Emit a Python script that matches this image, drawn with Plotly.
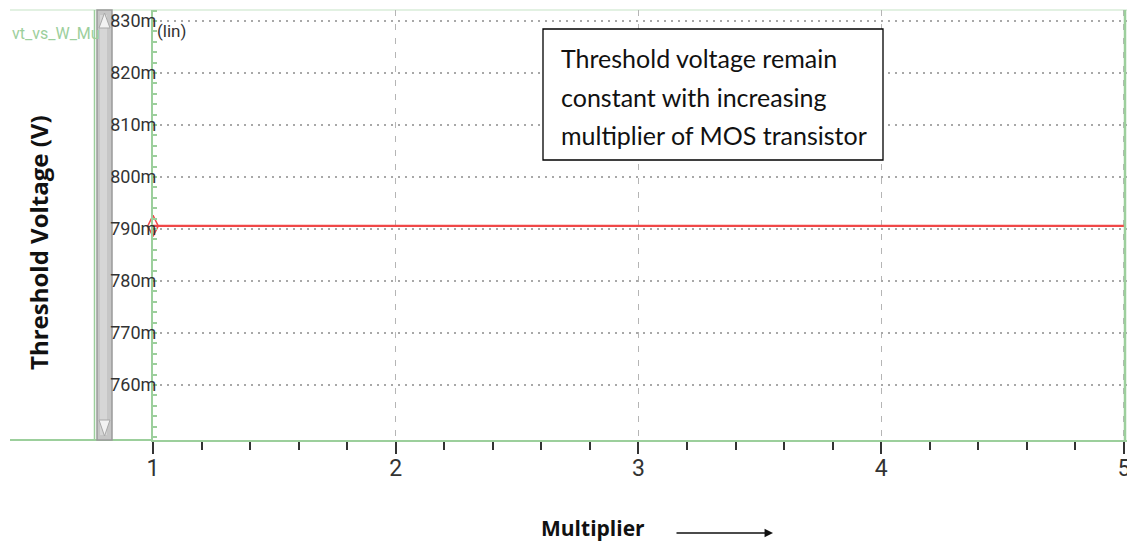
import plotly.graph_objects as go

# ---- data ----
multiplier = [1, 2, 3, 4, 5]
vth = [0.7906, 0.7906, 0.7906, 0.7906, 0.7906]
ytick_vals = [0.76, 0.77, 0.78, 0.79, 0.80, 0.81, 0.82, 0.83]
ytick_text = ["760m", "770m", "780m", "790m", "800m", "810m", "820m", "830m"]
xtick_vals = [1, 2, 3, 4, 5]
xtick_text = ["1", "2", "3", "4", "5"]
note_lines = ["Threshold voltage remain", "constant with increasing", "multiplier of MOS transistor"]

GREEN = "#9ccf9c"
NARROW = "Roboto, sans-serif"
W, H = 1127, 544
L, T, B = 10, 10, 104
PW, PH = W - L, H - T - B


def px(x):
    return (x - L) / PW


def py(y):
    return (H - B - y) / PH


fig = go.Figure()
fig.add_trace(go.Scatter(
    x=multiplier, y=vth, mode="lines",
    line=dict(color="#f04848", width=2.2), hoverinfo="skip", showlegend=False))
fig.add_trace(go.Scatter(
    x=multiplier[:1], y=vth[:1], mode="markers",
    marker=dict(symbol="diamond-tall-open", size=15, color="#f04848", line=dict(width=1.5)),
    showlegend=False, cliponaxis=False))

shapes = []
# extended x-axis line to the left edge
shapes.append(dict(type="line", xref="paper", yref="paper", x0=0, x1=px(153), y0=0, y1=0,
                   line=dict(color=GREEN, width=2), layer="below"))
# top border
shapes.append(dict(type="line", xref="paper", yref="paper", x0=0, x1=1, y0=1, y1=1,
                   line=dict(color="#d8ecd8", width=1.5), layer="below"))
# right border
shapes.append(dict(type="line", xref="paper", yref="paper", x0=px(1125), x1=px(1125), y0=0, y1=1,
                   line=dict(color=GREEN, width=2.5)))
# scrollbar
shapes.append(dict(type="line", xref="paper", yref="paper", x0=px(94.5), x1=px(94.5), y0=0, y1=1,
                   line=dict(color=GREEN, width=1.5), layer="below"))
shapes.append(dict(type="rect", xref="paper", yref="paper", x0=px(97), x1=px(112), y0=0, y1=1,
                   fillcolor="#c6c6c6", line=dict(color="#9a9a9a", width=1.5), layer="below"))
shapes.append(dict(type="rect", xref="paper", yref="paper", x0=px(100), x1=px(107), y0=py(435), y1=py(15),
                   fillcolor="#d6d6d6", line=dict(width=0), layer="below"))
shapes.append(dict(type="path", xref="paper", yref="paper",
                   path=f"M {px(99)} {py(28)} L {px(110)} {py(28)} L {px(104.5)} {py(13)} Z",
                   fillcolor="#f2f2f2", line=dict(color="#a8a8a8", width=1), layer="below"))
shapes.append(dict(type="path", xref="paper", yref="paper",
                   path=f"M {px(99)} {py(420)} L {px(110)} {py(420)} L {px(104.5)} {py(436)} Z",
                   fillcolor="#f2f2f2", line=dict(color="#a8a8a8", width=1), layer="below"))
# annotation box
shapes.append(dict(type="rect", xref="paper", yref="paper", x0=px(543), x1=px(883), y0=py(160), y1=py(29),
                   fillcolor="white", line=dict(color="black", width=1.3), layer="above"))

annotations = [
    dict(xref="paper", yref="paper", x=px(10), y=py(33), xanchor="left", yanchor="middle",
         text="vt_vs_W_Mu", showarrow=False, font=dict(family=NARROW, size=16, color="#9ccf9c")),
    dict(xref="paper", yref="paper", x=px(155), y=py(31), xanchor="left", yanchor="middle",
         text="(lin)", showarrow=False, font=dict(family=NARROW, size=17, color="#333333")),
    dict(xref="paper", yref="paper", x=px(38), y=py(243), xanchor="center", yanchor="middle",
         text="<b>Threshold Voltage (V)</b>", textangle=-90, showarrow=False,
         font=dict(family="Open Sans, sans-serif", size=24, color="#111111")),
    dict(xref="paper", yref="paper", x=px(593), y=py(528), xanchor="center", yanchor="middle",
         text="<b>Multiplier</b>", showarrow=False,
         font=dict(family="Open Sans, sans-serif", size=21, color="#111111")),
    dict(xref="paper", yref="paper", x=px(773), y=py(533), ax=-98, ay=0,
         text="", showarrow=True,
         arrowhead=2, arrowsize=1.3, arrowwidth=1.3, arrowcolor="#111111"),
]
for line_text, ypix in zip(note_lines, [58, 97, 135]):
    annotations.append(dict(xref="paper", yref="paper", x=px(559), y=py(ypix), xanchor="left",
                            yanchor="middle", text=line_text, showarrow=False,
                            font=dict(family="Lato, sans-serif", size=25, color="#111111")))

fig.update_layout(
    width=W, height=H,
    margin=dict(l=L, r=0, t=T, b=B),
    paper_bgcolor="white", plot_bgcolor="white",
    showlegend=False,
    shapes=shapes, annotations=annotations,
    xaxis=dict(
        domain=[px(153), 1], range=[1, 5.0124], automargin=False,
        tickmode="array", tickvals=xtick_vals, ticktext=xtick_text,
        ticks="outside", ticklen=12, tickwidth=1.5, tickcolor="#333333",
        tickfont=dict(family=NARROW, size=23, color="#333333"),
        ticklabelstandoff=-6, ticklabeloverflow="allow",
        showline=True, linecolor=GREEN, linewidth=2,
        showgrid=True, gridcolor="#b5b5b5", gridwidth=1.2, griddash="6px,8px",
        minor=dict(tickmode="linear", tick0=1, dtick=0.2, ticks="outside", ticklen=8,
                   tickwidth=1.5, tickcolor="#333333", showgrid=False),
        zeroline=False, fixedrange=True,
    ),
    yaxis=dict(
        range=[0.74942, 0.83212], automargin=False,
        tickmode="array", tickvals=ytick_vals, ticktext=ytick_text,
        ticks="", ticklabelstandoff=-9, ticklabeloverflow="allow",
        tickfont=dict(family=NARROW, size=18, color="#333333"),
        showline=True, linecolor=GREEN, linewidth=2,
        showgrid=True, gridcolor="#a8a8a8", gridwidth=1.5, griddash="2px,5px",
        minor=dict(tickmode="linear", tick0=0.76, dtick=0.002, ticks="inside", ticklen=4,
                   tickwidth=1.5, tickcolor=GREEN, showgrid=False),
        zeroline=False, fixedrange=True,
    ),
)

fig.write_html("out.html")
